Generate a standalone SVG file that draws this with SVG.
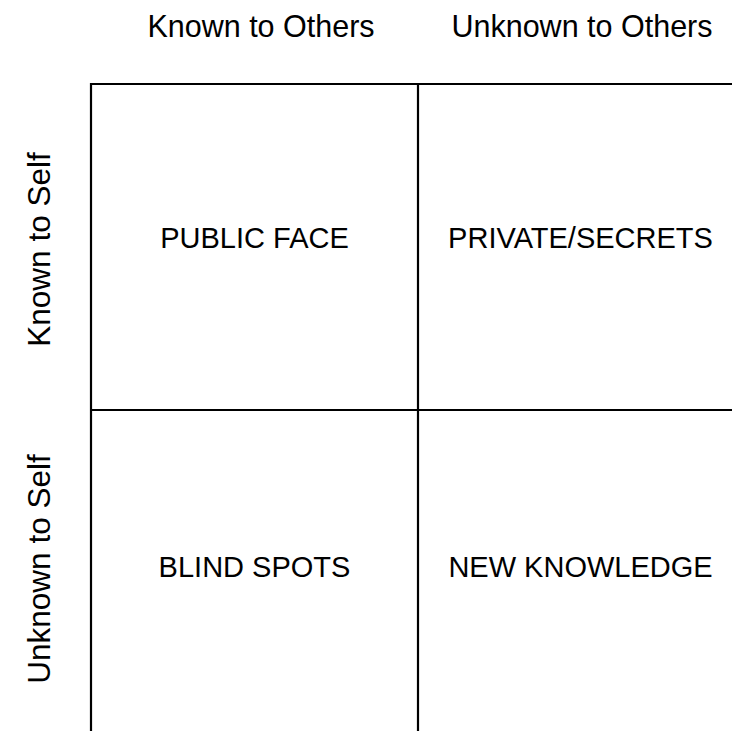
<svg xmlns="http://www.w3.org/2000/svg" width="732" height="731" viewBox="0 0 732 731">
<style>
text{font-family:"Liberation Sans",Arial,sans-serif;fill:#000;text-anchor:middle}
.h{font-size:30.5px}
.v{font-size:31.5px}
.c{font-size:29px}
.g{stroke:#000;stroke-width:2.2;fill:none}
</style>
<rect width="732" height="731" fill="#fff"/>
<g id="headers">
<text class="h" x="261" y="37">Known to Others</text>
<text class="h" x="582" y="37">Unknown to Others</text>
<text class="v" transform="translate(50,249.5) rotate(-90)">Known to Self</text>
<text class="v" transform="translate(50,569) rotate(-90)">Unknown to Self</text>
</g>
<g id="connectors">
<path class="g" d="M91,731 V84 H732 M418,84 V731 M91,410 H732"/>
</g>
<g id="public-face"><text class="c" x="254.5" y="248">PUBLIC FACE</text></g>
<g id="private-secrets"><text class="c" x="580.5" y="248">PRIVATE/SECRETS</text></g>
<g id="blind-spots"><text class="c" x="254.5" y="577">BLIND SPOTS</text></g>
<g id="new-knowledge"><text class="c" x="580.5" y="577">NEW KNOWLEDGE</text></g>
</svg>
